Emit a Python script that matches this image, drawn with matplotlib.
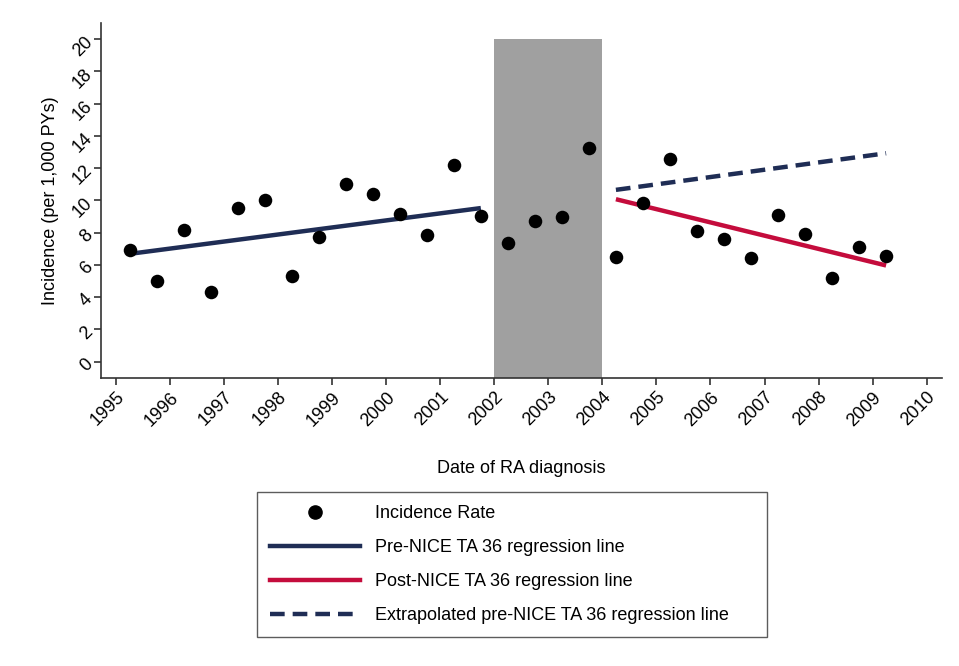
import matplotlib
matplotlib.use("Agg")
import matplotlib.pyplot as plt
from matplotlib.lines import Line2D

plt.rcParams['font.family'] = ['Liberation Sans', 'DejaVu Sans']

# semi-annual incidence points
dates = [1995.25, 1995.75, 1996.25, 1996.75, 1997.25, 1997.75, 1998.25, 1998.75,
         1999.25, 1999.75, 2000.25, 2000.75, 2001.25, 2001.75,
         2002.25, 2002.75, 2003.25, 2003.75,
         2004.25, 2004.75, 2005.25, 2005.75, 2006.25, 2006.75, 2007.25, 2007.75,
         2008.25, 2008.75, 2009.25]
incidence = [6.93, 4.97, 8.17, 4.29, 9.54, 10.01, 5.30, 7.70,
             11.02, 10.40, 9.18, 7.84, 12.18, 9.00,
             7.38, 8.71, 8.94, 13.25,
             6.48, 9.82, 12.55, 8.09, 7.62, 6.40, 9.08, 7.93,
             5.16, 7.10, 6.56]

pre_x = [1995.25, 2001.75]
pre_y = [6.68, 9.52]
post_x = [2004.25, 2009.25]
post_y = [10.07, 5.96]
extra_x = [2004.25, 2009.25]
extra_y = [10.65, 12.92]

gap_x = [2002, 2004]
gap_top = 20

years = list(range(1995, 2011))
yticks = list(range(0, 21, 2))

navy = '#1f2d55'
red = '#c40c3c'
fs = 13

fig = plt.figure(figsize=(9.59, 6.66), dpi=100)
ax = fig.add_axes([0.1053, 0.4329, 0.8767, 0.5326])

ax.fill_between(gap_x, -1, gap_top, color='#a0a0a0', lw=0, zorder=1)
ax.plot(pre_x, pre_y, color=navy, lw=3.2, solid_capstyle='butt', zorder=2)
ax.plot(post_x, post_y, color=red, lw=3.2, solid_capstyle='butt', zorder=2)
ax.plot(extra_x, extra_y, color=navy, lw=3.2, dashes=(3.3, 1.8), zorder=2)
ax.scatter(dates, incidence, s=95, color='black', lw=0, zorder=3)

ax.set_xlim(1994.72, 2010.28)
ax.set_ylim(-1, 21)
ax.set_xticks(years)
ax.set_yticks(yticks)
ax.set_xticklabels([str(y) for y in years], rotation=45, ha='right',
                   rotation_mode='anchor', fontsize=fs)
ax.set_yticklabels([str(v) for v in yticks], rotation=45, ha='right',
                   va='center', rotation_mode='anchor', fontsize=fs)
ax.tick_params(direction='out', length=5, width=1.2, color='#333333', pad=3)

for s in ['top', 'right']:
    ax.spines[s].set_visible(False)
for s in ['left', 'bottom']:
    ax.spines[s].set_linewidth(1.2)
    ax.spines[s].set_color('#333333')

ax.set_xlabel('Date of RA diagnosis', fontsize=fs, labelpad=22)
ax.set_ylabel('Incidence (per 1,000 PYs)', fontsize=fs, labelpad=8)

handles = [
    Line2D([], [], ls='none', marker='o', ms=9.5, color='black'),
    Line2D([], [], color=navy, lw=3.2),
    Line2D([], [], color=red, lw=3.2),
    Line2D([], [], color=navy, lw=3.2, dashes=(3.3, 1.8)),
]
labels = ['Incidence Rate', 'Pre-NICE TA 36 regression line',
          'Post-NICE TA 36 regression line',
          'Extrapolated pre-NICE TA 36 regression line']
leg = fig.legend(handles, labels, loc='lower left',
                 bbox_to_anchor=(0.268, 0.0435, 0.532, 0.219), mode='expand',
                 fontsize=fs, frameon=True, fancybox=False, edgecolor='#333333',
                 handlelength=5.0, handletextpad=0.85, labelspacing=0.95,
                 borderpad=0.7, borderaxespad=0)
leg.get_frame().set_linewidth(1.0)

fig.savefig('out.png', dpi=100, facecolor='white')
